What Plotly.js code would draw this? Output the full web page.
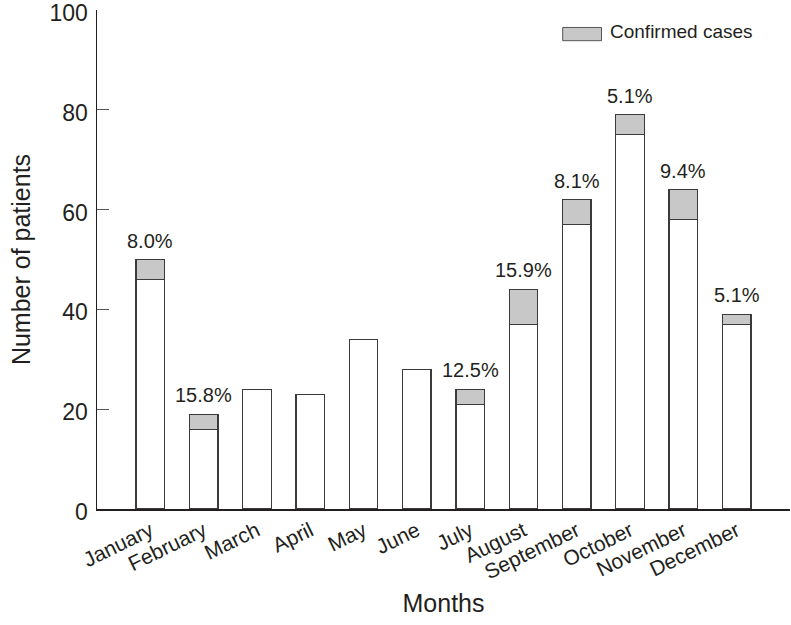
<!DOCTYPE html>
<html>
<head>
<meta charset="utf-8">
<script src="https://cdn.plot.ly/plotly-3.0.1.min.js"></script>
<style>html,body{margin:0;padding:0;background:#fff;}#chart{width:791px;height:625px;}</style>
</head>
<body>
<div id="chart"></div>
<script>
const months = ["January","February","March","April","May","June","July","August","September","October","November","December"];
const unconfirmed = [46, 16, 24, 23, 34, 28, 21, 37, 57, 75, 58, 37];
const confirmed = [4, 3, 0, 0, 0, 0, 3, 7, 5, 4, 6, 2];
const percentLabels = ["8.0%","15.8%","","","","","12.5%","15.9%","8.1%","5.1%","9.4%","5.1%"];
const yTicks = [0, 20, 40, 60, 80, 100];

const FONT = "'Liberation Sans', Arial, sans-serif";
const INK = "#231f20";

const totals = months.map((m, i) => unconfirmed[i] + confirmed[i]);

const traces = [
  {
    type: "bar", x: months, y: unconfirmed, name: "Unconfirmed",
    marker: {color: "#ffffff", line: {color: "#3a3a3a", width: 1.3}},
    width: 0.535, showlegend: false, hoverinfo: "x+y"
  },
  {
    type: "bar", x: months, y: confirmed, name: "Confirmed cases",
    marker: {color: "#c8c8c8", line: {color: "#3a3a3a", width: 1.3}},
    width: 0.535, showlegend: false, hoverinfo: "x+y"
  }
];

const annotations = months.map((m, i) => ({
  x: m, y: totals[i], xref: "x", yref: "y",
  text: percentLabels[i], showarrow: false,
  yanchor: "bottom", yshift: 6,
  font: {family: FONT, size: 20, color: INK}
})).filter(a => a.text !== "");

annotations.push({
  xref: "paper", yref: "paper", x: 0.738, y: 0.956,
  xanchor: "left", yanchor: "middle", showarrow: false,
  text: "Confirmed cases", font: {family: FONT, size: 19, color: INK}
});

const layout = {
  width: 791, height: 625,
  margin: {l: 97, r: 1, t: 10, b: 116},
  paper_bgcolor: "#ffffff", plot_bgcolor: "#ffffff",
  barmode: "stack",
  showlegend: false,
  font: {family: FONT, color: INK},
  xaxis: {
    type: "category", range: [-1, 12],
    showline: true, linecolor: INK, linewidth: 1.5,
    ticks: "", showgrid: false, zeroline: false,
    tickangle: -26, tickfont: {family: FONT, size: 21, color: INK},
    title: {text: "Months", font: {family: FONT, size: 25, color: INK}, standoff: 12}
  },
  yaxis: {
    range: [0, 100], tickvals: yTicks,
    showline: true, linecolor: INK, linewidth: 1.5,
    ticks: "inside", ticklen: 12, tickcolor: "#555", tickwidth: 1.2,
    showgrid: false, zeroline: false, ticklabeloverflow: "allow",
    ticklabelstandoff: 3, ticklabelshift: 3,
    tickfont: {family: FONT, size: 23, color: INK},
    title: {text: "Number of patients", font: {family: FONT, size: 25, color: INK}, standoff: 12}
  },
  shapes: [{
    type: "rect", xref: "paper", yref: "paper",
    x0: 0.672, x1: 0.728, y0: 0.9385, y1: 0.965,
    fillcolor: "#c8c8c8", line: {color: "#555", width: 1}
  }],
  annotations: annotations
};

Plotly.newPlot("chart", traces, layout, {displayModeBar: false, staticPlot: true});
</script>
</body>
</html>
